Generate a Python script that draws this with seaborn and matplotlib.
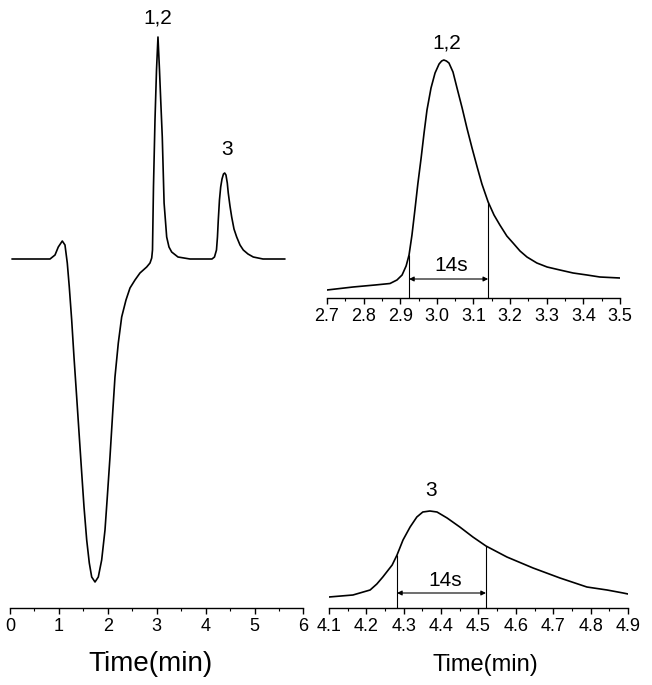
import numpy as np
import pandas as pd
import matplotlib
matplotlib.use("Agg")
import matplotlib.pyplot as plt
import seaborn as sns
from matplotlib.ticker import MultipleLocator, FormatStrFormatter

# whole run, 0-6 min (signal in arbitrary units, baseline = 0)
fullTime = [0.04, 0.818, 0.920, 0.987, 1.069, 1.124, 1.171, 1.212, 1.261, 1.308,
            1.363, 1.417, 1.466, 1.513, 1.568, 1.621, 1.670, 1.738, 1.805, 1.874,
            1.942, 1.989, 2.044, 2.099, 2.146, 2.214, 2.283, 2.371, 2.453, 2.555,
            2.657, 2.794, 2.862, 2.897, 2.913, 2.933, 2.964, 2.995, 3.025, 3.056,
            3.081, 3.113, 3.150, 3.203, 3.250, 3.305, 3.434, 3.679, 4.129, 4.180,
            4.221, 4.241, 4.258, 4.282, 4.307, 4.334, 4.364, 4.389, 4.415, 4.442,
            4.462, 4.497, 4.532, 4.579, 4.634, 4.702, 4.769, 4.865, 4.973, 5.172,
            5.621]
fullSignal = [0.0, 0.0, 0.4, 1.2, 1.8, 1.4, -0.4, -2.8, -6.1, -9.8,
              -13.8, -17.8, -21.4, -24.8, -28.1, -30.4, -31.8, -32.3, -31.8, -30.1,
              -27.1, -23.8, -19.8, -15.4, -11.8, -8.4, -5.8, -4.1, -2.9, -2.1,
              -1.4, -0.8, -0.4, 0.1, 0.9, 7.2, 13.9, 18.9, 22.2, 18.9,
              15.9, 12.2, 5.6, 2.2, 1.2, 0.7, 0.2, 0.0, 0.0, 0.2,
              0.9, 2.2, 3.9, 5.9, 7.2, 8.0, 8.5, 8.6, 8.4, 7.6,
              6.6, 5.3, 4.2, 3.0, 2.2, 1.4, 0.9, 0.5, 0.2, 0.0,
              0.0]

# zoom on peak 1,2
peak12Time = [2.700, 2.771, 2.831, 2.872, 2.891, 2.905, 2.916, 2.924, 2.932, 2.940,
              2.948, 2.957, 2.965, 2.973, 2.984, 2.995, 3.006, 3.013, 3.019, 3.026,
              3.033, 3.044, 3.055, 3.069, 3.082, 3.096, 3.110, 3.123, 3.140, 3.156,
              3.172, 3.191, 3.208, 3.227, 3.246, 3.273, 3.301, 3.336, 3.372, 3.410,
              3.445, 3.500]
peak12Signal = [0.8, 1.1, 1.3, 1.45, 1.8, 2.3, 3.2, 4.3, 6.3, 8.8,
                11.4, 14.0, 16.5, 18.8, 21.0, 22.5, 23.4, 23.7, 23.8, 23.7,
                23.5, 22.6, 21.0, 19.0, 17.0, 15.0, 13.1, 11.4, 9.6, 8.3,
                7.3, 6.2, 5.5, 4.7, 4.1, 3.5, 3.1, 2.8, 2.5, 2.3,
                2.1, 2.0]

# zoom on peak 3
peak3Time = [4.100, 4.164, 4.210, 4.228, 4.244, 4.269, 4.282, 4.298, 4.317, 4.335,
             4.351, 4.370, 4.389, 4.416, 4.450, 4.485, 4.520, 4.576, 4.646, 4.718,
             4.790, 4.844, 4.887, 4.900]
peak3Signal = [1.1, 1.3, 1.8, 2.4, 3.1, 4.3, 5.3, 6.8, 8.1, 9.1,
               9.6, 9.7, 9.6, 9.0, 8.1, 7.1, 6.2, 5.1, 4.0, 3.0,
               2.1, 1.8, 1.5, 1.4]

# 14 s width markers: start, end, top of start line, top of end line, arrow level
width12 = [2.924, 3.140, 4.3, 9.6, 1.9]
width3 = [4.282, 4.520, 5.3, 6.2, 1.5]

# peak labels: text, time, signal
fullLabels = [("1,2", 3.025, 24.1), ("3", 4.436, 11.0)]
peak12Label = ("1,2", 3.028, 25.5)
peak3Label = ("3", 4.373, 11.7)
widthText = "14s"
widthText12 = (3.039, 3.3)
widthText3 = (4.41, 2.7)

sns.set_style("white")
plt.rcParams['font.family'] = ['Liberation Sans', 'DejaVu Sans']
plt.rcParams['text.color'] = 'black'
plt.rcParams['axes.labelcolor'] = 'black'
plt.rcParams['xtick.color'] = 'black'

fig = plt.figure(figsize=(6.52, 6.85), dpi=100)
axFull = fig.add_axes([0.01534, 0.11241, 0.45015, 0.86569])
axTop = fig.add_axes([0.50153, 0.56496, 0.44939, 0.39124])
axBot = fig.add_axes([0.50460, 0.11241, 0.45859, 0.18686])


def styleAxis(ax, major, minor, fmt):
    sns.despine(ax=ax, left=True, top=True, right=True)
    ax.spines['bottom'].set_linewidth(1.0)
    ax.spines['bottom'].set_color('black')
    ax.xaxis.set_major_locator(MultipleLocator(major))
    ax.xaxis.set_minor_locator(MultipleLocator(minor))
    ax.xaxis.set_major_formatter(FormatStrFormatter(fmt))
    ax.tick_params(axis='x', which='major', direction='out', length=4, width=1.0,
                   labelsize=13, pad=3, colors='black', bottom=True)
    ax.tick_params(axis='x', which='minor', direction='out', length=2, width=0.8,
                   bottom=True, colors='black')
    ax.set_yticks([])
    ax.set_ylabel("")


def plotTrace(ax, t, s):
    df = pd.DataFrame({'Time': t, 'Signal': s})
    sns.lineplot(data=df, x='Time', y='Signal', ax=ax, color='black', lw=1.2,
                 sort=False, estimator=None)


def drawWidth(ax, w, textPos):
    ax.vlines([w[0]], 0, w[2], color='black', lw=0.8)
    ax.vlines([w[1]], 0, w[3], color='black', lw=0.8)
    ax.annotate("", xy=(w[0], w[4]), xytext=(w[1], w[4]),
                arrowprops=dict(arrowstyle='<|-|>', color='black', lw=0.8,
                                mutation_scale=7, shrinkA=0, shrinkB=0))
    ax.text(textPos[0], textPos[1], widthText, ha='center', va='center', fontsize=15)


# whole chromatogram
plotTrace(axFull, fullTime, fullSignal)
axFull.set_xlim(0, 6)
axFull.set_ylim(-34.9, 24.4)
styleAxis(axFull, 1, 0.5, '%d')
for txt, tx, sy in fullLabels:
    axFull.text(tx, sy, txt, ha='center', va='center', fontsize=15)
axFull.set_xlabel("Time(min)", fontsize=20, labelpad=12)
axFull.xaxis.label.set_x(0.477)

# peak 1,2
plotTrace(axTop, peak12Time, peak12Signal)
axTop.set_xlim(2.7, 3.5)
axTop.set_ylim(0, 26.8)
styleAxis(axTop, 0.1, 0.05, '%.1f')
drawWidth(axTop, width12, widthText12)
axTop.text(peak12Label[1], peak12Label[2], peak12Label[0], ha='center', va='center', fontsize=15)
axTop.set_xlabel("")

# peak 3
plotTrace(axBot, peak3Time, peak3Signal)
axBot.set_xlim(4.1, 4.9)
axBot.set_ylim(0, 12.8)
styleAxis(axBot, 0.1, 0.05, '%.1f')
drawWidth(axBot, width3, widthText3)
axBot.text(peak3Label[1], peak3Label[2], peak3Label[0], ha='center', va='center', fontsize=15)
axBot.set_xlabel("Time(min)", fontsize=17, labelpad=14)
axBot.xaxis.label.set_x(0.522)

fig.savefig("out.png", dpi=100)
